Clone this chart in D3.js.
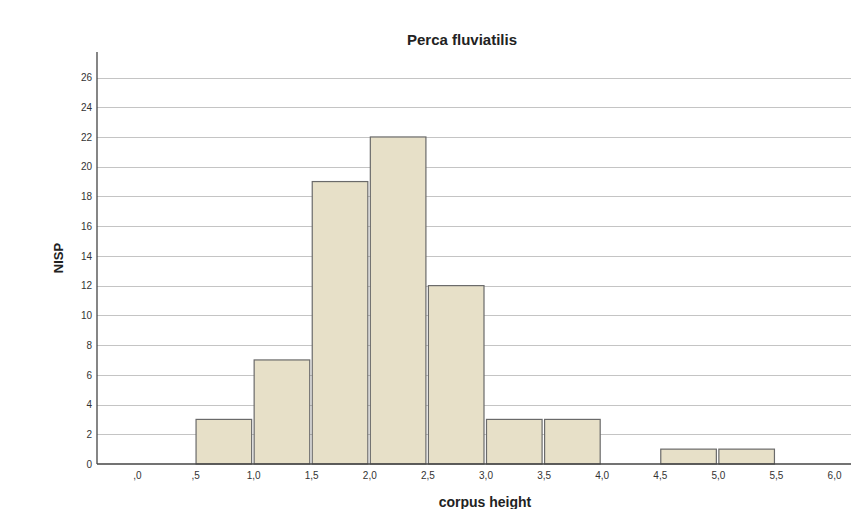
<!DOCTYPE html>
<html lang="en">
  <head>
    <meta charset="UTF-8" />
    <title>Perca fluviatilis</title>
    <style>
      body { margin: 0; background: #fff; }
      svg { display: block; font-family: 'Liberation Sans', Arial, sans-serif; }
    </style>
  </head>
  <body>
    <svg id="chart"></svg>
    <script src="https://d3js.org/d3.v7.min.js"></script>
    <script>
      // histogram bins (lower edge, upper edge) and counts
      const binStarts = [0.5, 1.0, 1.5, 2.0, 2.5, 3.0, 3.5, 4.0, 4.5, 5.0];
      const binEnds = [1.0, 1.5, 2.0, 2.5, 3.0, 3.5, 4.0, 4.5, 5.0, 5.5];
      const counts = [3, 7, 19, 22, 12, 3, 3, 0, 1, 1];
      const xTicks = [0, 0.5, 1, 1.5, 2, 2.5, 3, 3.5, 4, 4.5, 5, 5.5, 6];
      const yTicks = [0, 2, 4, 6, 8, 10, 12, 14, 16, 18, 20, 22, 24, 26];

      const width = 851;
      const height = 509;
      const margin = { top: 52, right: 0, bottom: 45, left: 97 };
      const baseline = 464;

      const svg = d3.select('#chart').attr('width', width).attr('height', height);

      const x = d3.scaleLinear().domain([-0.344, 6.146]).range([margin.left, width - margin.right]);
      const y = d3.scaleLinear().domain([0, 26]).range([baseline, 77.5]);

      // gridlines
      svg.append('g')
        .selectAll('line')
        .data(yTicks.filter((d) => d > 0))
        .join('line')
        .attr('x1', margin.left)
        .attr('x2', width)
        .attr('y1', (d) => Math.round(y(d)) + 0.5)
        .attr('y2', (d) => Math.round(y(d)) + 0.5)
        .attr('stroke', '#c4c4c4')
        .attr('stroke-width', 1);

      // bars
      const bins = counts.map((c, i) => ({ lo: binStarts[i], hi: binEnds[i], c }));
      svg.append('g')
        .selectAll('rect')
        .data(bins.filter((d) => d.c > 0))
        .join('rect')
        .attr('x', (d) => x(d.lo) + 1)
        .attr('width', (d) => x(d.hi) - x(d.lo) - 2.5)
        .attr('y', (d) => y(d.c))
        .attr('height', (d) => baseline - y(d.c))
        .attr('fill', '#e7e0c8')
        .attr('stroke', '#6a6a6a')
        .attr('stroke-width', 1.2);

      // y axis
      const axisY = d3.axisLeft(y).tickValues(yTicks).tickSize(0).tickPadding(5);
      const gy = svg.append('g')
        .attr('transform', `translate(${margin.left},0)`)
        .call(axisY);
      gy.select('.domain').remove();
      gy.selectAll('text').attr('font-size', 10).attr('fill', '#333').attr('font-family', 'Liberation Sans, Arial, sans-serif');
      svg.append('line')
        .attr('x1', margin.left).attr('x2', margin.left)
        .attr('y1', margin.top).attr('y2', baseline)
        .attr('stroke', '#444').attr('stroke-width', 1.3);

      // x axis
      const fmt = (d) => {
        const s = d.toFixed(1).replace('.', ',');
        return s.startsWith('0') ? s.slice(1) : s;
      };
      const axisX = d3.axisBottom(x).tickValues(xTicks).tickSize(0).tickPadding(8).tickFormat(fmt);
      const gx = svg.append('g')
        .attr('transform', `translate(0,${baseline})`)
        .call(axisX);
      gx.select('.domain').remove();
      gx.selectAll('text').attr('font-size', 10).attr('fill', '#333').attr('font-family', 'Liberation Sans, Arial, sans-serif');
      svg.append('line')
        .attr('x1', margin.left).attr('x2', width)
        .attr('y1', baseline).attr('y2', baseline)
        .attr('stroke', '#444').attr('stroke-width', 1.3);

      // title and axis labels
      svg.append('text')
        .attr('x', 462).attr('y', 45)
        .attr('text-anchor', 'middle')
        .attr('font-size', 15).attr('font-weight', 'bold').attr('fill', '#222')
        .text('Perca fluviatilis');

      svg.append('text')
        .attr('transform', 'translate(63,258) rotate(-90)')
        .attr('text-anchor', 'middle')
        .attr('font-size', 13).attr('font-weight', 'bold').attr('fill', '#222')
        .text('NISP');

      svg.append('text')
        .attr('x', 485).attr('y', 507)
        .attr('text-anchor', 'middle')
        .attr('font-size', 14).attr('font-weight', 'bold').attr('fill', '#222')
        .text('corpus height');
    </script>
  </body>
</html>
